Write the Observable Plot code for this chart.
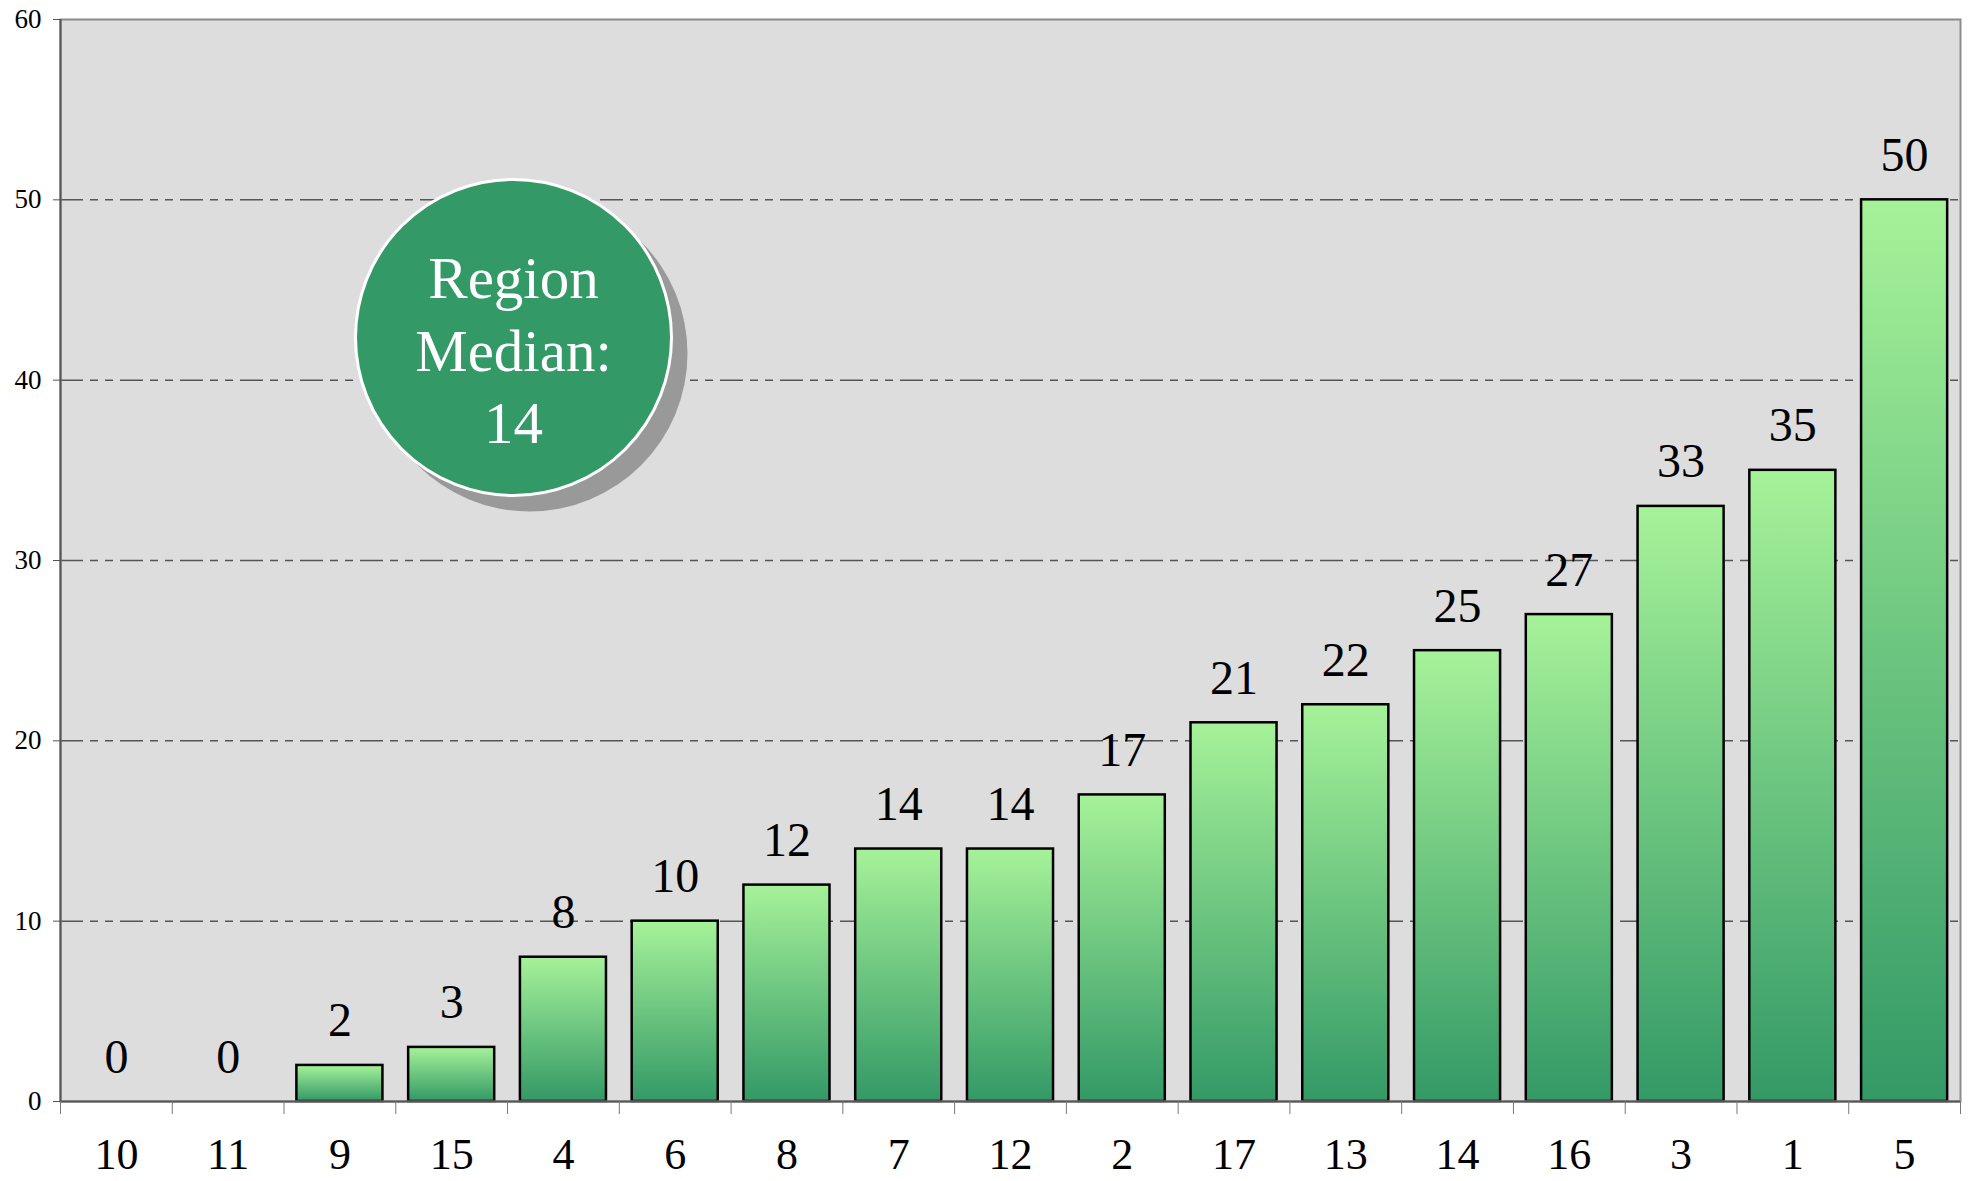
<!DOCTYPE html>
<html><head><meta charset="utf-8">
<script src="https://cdn.jsdelivr.net/npm/d3@7"></script>
<script src="https://cdn.jsdelivr.net/npm/@observablehq/plot@0.6"></script>
<style>html,body{margin:0;padding:0;background:#fff;overflow:hidden}svg{display:block;max-width:none!important}</style>
</head><body><div id="chart"></div>
<script>
const regions = ["10","11","9","15","4","6","8","7","12","2","17","13","14","16","3","1","5"];
const counts  = [0,0,2,3,8,10,12,14,14,17,21,22,25,27,33,35,50];
const yTicks = [0,10,20,30,40,50,60];
const gridTicks = [10,20,30,40,50];
const medianTitle = "Region\nMedian:";

const data = regions.map((r,i)=>({region:r, count:counts[i]}));
const median = d3.median(counts);

const W = 1971, H = 1181, mL = 60, mR = 11, mT = 19, mB = 80;
const step = (W - mL - mR) / regions.length;
const serif = "Liberation Serif, Times New Roman, serif";

const chart = Plot.plot({
  width: W, height: H,
  marginLeft: mL, marginRight: mR, marginTop: mT, marginBottom: mB,
  style: {fontFamily: serif, background: "transparent", color: "black", maxWidth: "none"},
  x: {type: "band", domain: regions, paddingInner: 0.23, paddingOuter: 0.115, round: false, label: null},
  y: {domain: [0, 60], label: null},
  marks: [
    Plot.frame({fill: "#dddddd", stroke: null}),
    Plot.gridY(gridTicks, {stroke: "#555", strokeOpacity: 1, strokeWidth: 1.5, strokeDasharray: "23,7,8,7,8,7"}),
    Plot.barY(data.filter(d => d.count > 0), {x: "region", y: "count", fill: "url(#barGrad)", stroke: "black", strokeWidth: 2.5}),
    Plot.text(data, {x: "region", y: "count", text: d => String(d.count), lineAnchor: "bottom", dy: -29, fontSize: 48, fill: "black"}),
    Plot.dot([median], {frameAnchor: "top-left", dx: 469, dy: 334, r: 158, fill: "#999999", stroke: null}),
    Plot.dot([median], {frameAnchor: "top-left", dx: 453, dy: 318, r: 158, fill: "#339966", stroke: "white", strokeWidth: 3}),
    Plot.text([median], {frameAnchor: "top-left", textAnchor: "middle", lineAnchor: "middle", dx: 453, dy: 328, text: d => medianTitle + "\n" + d, fontSize: 59, lineHeight: 1.23, fill: "white"}),
    Plot.frame({stroke: "#8c8c8c", strokeWidth: 2, fill: null}),
    Plot.ruleX([regions[0]], {dx: -step/2, stroke: "#555", strokeWidth: 2}),
    Plot.ruleY([0], {stroke: "#555", strokeWidth: 2}),
    Plot.axisY({ticks: yTicks, tickSize: 7, tickPadding: 12, fontSize: 27, stroke: "#555", label: null}),
    Plot.axisX({ticks: regions, tickSize: 0, tickPadding: 36, fontSize: 44, label: null}),
    Plot.axisX({ticks: regions, tickSize: 13, tickFormat: () => "", dx: -step/2, stroke: "#777", label: null}),
    Plot.axisX({ticks: [regions[regions.length-1]], tickSize: 13, tickFormat: () => "", dx: step/2, stroke: "#777", label: null})
  ]
});

const defs = document.createElementNS("http://www.w3.org/2000/svg", "defs");
defs.innerHTML = '<linearGradient id="barGrad" x1="0" y1="0" x2="0" y2="1"><stop offset="0" stop-color="#a6f299"/><stop offset="1" stop-color="#339966"/></linearGradient>';
chart.prepend(defs);
document.getElementById("chart").append(chart);
</script>
</body></html>
